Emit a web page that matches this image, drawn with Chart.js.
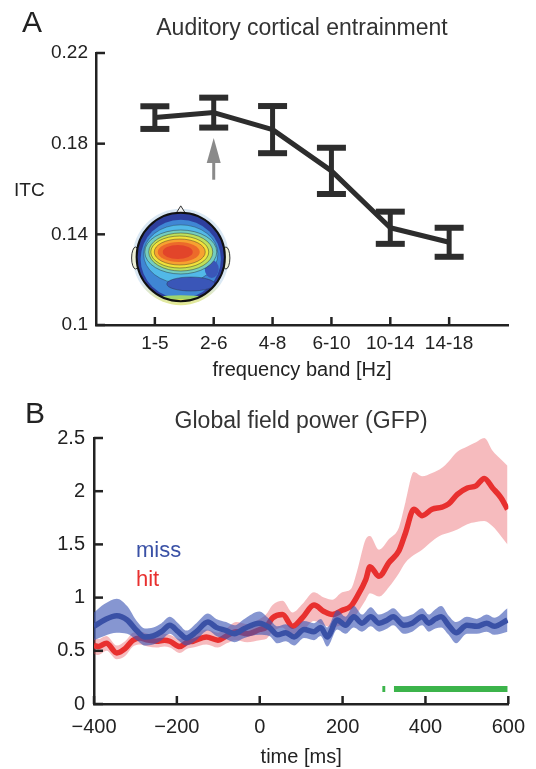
<!DOCTYPE html>
<html>
<head>
<meta charset="utf-8">
<script src="https://cdn.jsdelivr.net/npm/chart.js@4.4.1/dist/chart.umd.min.js"></script>
<style>
  html, body { margin: 0; padding: 0; background: #fff; }
  body {
    width: 536px; height: 769px; position: relative; overflow: hidden;
    font-family: "Liberation Sans", Arial, sans-serif; color: #222;
  }
  .panel { position: absolute; left: 0; width: 536px; }
  #panelA { top: 0; height: 390px; }
  #panelB { top: 390px; height: 379px; }
  .lbl { position: absolute; line-height: 1; white-space: nowrap; }
</style>
</head>
<body>
<div class="panel" id="panelA"><canvas id="chartItc"></canvas></div>
<div class="panel" id="panelB"><canvas id="chartGfp"></canvas></div>

<div class="lbl" style="left:22px; top:7px; font-size:30px;">A</div>
<div class="lbl" style="left:25px; top:398px; font-size:30px;">B</div>
<div class="lbl" style="left:14px; top:180px; font-size:19px;">ITC</div>
<div class="lbl" style="left:136px; top:539px; font-size:22px; color:#3a51a6;">miss</div>
<div class="lbl" style="left:136px; top:568px; font-size:22px; color:#e8302f;">hit</div>

<script>
// panel A: inter-trial coherence per frequency band
const bands = ["1-5", "2-6", "4-8", "6-10", "10-14", "14-18"];
const itcMean = [0.1915, 0.1937, 0.1862, 0.168, 0.1429, 0.1365];
const itcErr = [0.005, 0.0066, 0.0104, 0.0102, 0.0071, 0.0064];
const itcTicks = [0.1, 0.14, 0.18, 0.22];
// grey arrow over the 2-6 Hz band
const arrowBand = 2;
const arrowTip = 0.1825;
const arrowTail = 0.1641;

// panel B: global field power, miss vs hit
const timeTicks = [-400, -200, 0, 200, 400, 600];
const gfpTicks = [0, 0.5, 1, 1.5, 2, 2.5];

const missTime = [-400, -375, -345, -320, -297, -277, -257, -237, -217, -197,
  -177, -153, -125, -105, -81, -61, -37, -1, 23, 43,
  63, 83, 107, 131, 147, 163, 187, 207, 227, 247,
  268, 288, 308, 322, 348, 368, 392, 408, 424, 438,
  456, 474, 500, 524, 548, 566, 598];
const missMean = [0.73, 0.79, 0.83, 0.79, 0.69, 0.63, 0.64, 0.68, 0.74, 0.68,
  0.62, 0.68, 0.77, 0.72, 0.69, 0.66, 0.71, 0.76, 0.72, 0.65,
  0.67, 0.63, 0.70, 0.68, 0.72, 0.63, 0.79, 0.74, 0.82, 0.76,
  0.82, 0.76, 0.79, 0.82, 0.74, 0.76, 0.82, 0.76, 0.80, 0.82,
  0.74, 0.67, 0.74, 0.73, 0.76, 0.73, 0.79];
const missErr = [0.13, 0.15, 0.16, 0.13, 0.09, 0.08, 0.08, 0.08, 0.08, 0.08,
  0.07, 0.08, 0.08, 0.08, 0.08, 0.08, 0.09, 0.11, 0.08, 0.08,
  0.08, 0.08, 0.08, 0.08, 0.08, 0.09, 0.09, 0.08, 0.10, 0.08,
  0.09, 0.08, 0.08, 0.08, 0.08, 0.08, 0.08, 0.08, 0.09, 0.10,
  0.09, 0.10, 0.08, 0.07, 0.08, 0.08, 0.11];

const hitTime = [-400, -390, -370, -345, -325, -306, -289, -270, -249, -230,
  -217, -193, -175, -161, -129, -101, -80, -57, -30, 0,
  15, 31, 55, 79, 103, 131, 155, 175, 199, 220,
  235, 256, 266, 288, 312, 336, 352, 372, 392, 416,
  440, 456, 477, 501, 522, 542, 562, 582, 598];
const hitMean = [0.55, 0.54, 0.57, 0.48, 0.52, 0.60, 0.62, 0.60, 0.59, 0.60,
  0.59, 0.54, 0.58, 0.59, 0.63, 0.60, 0.64, 0.68, 0.66, 0.70,
  0.72, 0.81, 0.84, 0.73, 0.81, 0.93, 0.87, 0.84, 0.88, 0.92,
  1.01, 1.17, 1.29, 1.20, 1.33, 1.44, 1.61, 1.83, 1.77, 1.83,
  1.85, 1.88, 1.97, 2.03, 2.05, 2.12, 2.03, 1.94, 1.83];
const hitLow = [0.47, 0.46, 0.50, 0.42, 0.45, 0.54, 0.56, 0.54, 0.53, 0.54,
  0.53, 0.48, 0.52, 0.53, 0.56, 0.53, 0.57, 0.60, 0.58, 0.60,
  0.61, 0.68, 0.72, 0.62, 0.68, 0.78, 0.74, 0.72, 0.74, 0.76,
  0.85, 0.98, 1.04, 1.01, 1.10, 1.23, 1.33, 1.40, 1.45, 1.53,
  1.59, 1.61, 1.64, 1.69, 1.71, 1.72, 1.67, 1.58, 1.50];
const hitHigh = [0.62, 0.61, 0.64, 0.55, 0.59, 0.67, 0.68, 0.66, 0.65, 0.66,
  0.65, 0.61, 0.64, 0.65, 0.70, 0.67, 0.71, 0.77, 0.75, 0.80,
  0.84, 0.93, 0.97, 0.86, 0.94, 1.05, 1.00, 0.98, 1.05, 1.08,
  1.25, 1.55, 1.58, 1.45, 1.55, 1.66, 1.90, 2.18, 2.14, 2.17,
  2.22, 2.28, 2.37, 2.42, 2.46, 2.50, 2.38, 2.30, 2.24];

// significant hit > miss stretches (green bar)
const sigStart = [296, 324];
const sigEnd = [303, 598];
const sigLevel = 0.14;

const axisColor = "#222";
const lineDark = "#2d2d2d";
const missColor = "#3a51a6";
const hitColor = "#e8302f";

Chart.defaults.font.family = "'Liberation Sans', Arial, sans-serif";
Chart.defaults.color = axisColor;

function points(times, values) {
  return times.map((t, i) => ({ x: t, y: values[i] }));
}

// ticks drawn inside the axes, like the matlab figure
const inwardTicks = {
  id: "inwardTicks",
  afterDraw(chart) {
    const { ctx, chartArea, scales } = chart;
    ctx.save();
    ctx.strokeStyle = axisColor;
    ctx.lineWidth = 2.5;
    scales.x.ticks.forEach((t) => {
      const px = scales.x.getPixelForValue(t.value);
      ctx.beginPath();
      ctx.moveTo(px, chartArea.bottom);
      ctx.lineTo(px, chartArea.bottom - 8);
      ctx.stroke();
    });
    scales.y.ticks.forEach((t) => {
      const py = scales.y.getPixelForValue(t.value);
      ctx.beginPath();
      ctx.moveTo(chartArea.left, py);
      ctx.lineTo(chartArea.left + 9, py);
      ctx.stroke();
    });
    ctx.restore();
  },
};

const errorBars = {
  id: "errorBars",
  afterDatasetsDraw(chart) {
    const { ctx, scales: { x, y } } = chart;
    ctx.save();
    ctx.strokeStyle = lineDark;
    itcMean.forEach((m, i) => {
      const px = x.getPixelForValue(i + 1);
      const top = y.getPixelForValue(m + itcErr[i]);
      const bot = y.getPixelForValue(m - itcErr[i]);
      ctx.lineWidth = 5;
      ctx.beginPath();
      ctx.moveTo(px, top);
      ctx.lineTo(px, bot);
      ctx.stroke();
      ctx.lineWidth = 6;
      [top, bot].forEach((py) => {
        ctx.beginPath();
        ctx.moveTo(px - 14.5, py);
        ctx.lineTo(px + 14.5, py);
        ctx.stroke();
      });
    });

    // arrow
    const ax = x.getPixelForValue(arrowBand);
    const tip = y.getPixelForValue(arrowTip);
    const tail = y.getPixelForValue(arrowTail);
    const headLen = (tail - tip) * 0.6;
    ctx.strokeStyle = "#8a8a8a";
    ctx.fillStyle = "#8a8a8a";
    ctx.lineWidth = 3;
    ctx.beginPath();
    ctx.moveTo(ax, tail);
    ctx.lineTo(ax, tip + headLen - 2);
    ctx.stroke();
    ctx.beginPath();
    ctx.moveTo(ax, tip);
    ctx.lineTo(ax - 7, tip + headLen);
    ctx.lineTo(ax + 7, tip + headLen);
    ctx.closePath();
    ctx.fill();
    ctx.restore();
  },
};

function ellipse(ctx, cx, cy, rx, ry, fill, stroke) {
  ctx.beginPath();
  ctx.ellipse(cx, cy, rx, ry, 0, 0, Math.PI * 2);
  ctx.fillStyle = fill;
  ctx.fill();
  if (stroke) {
    ctx.strokeStyle = stroke;
    ctx.lineWidth = 0.8;
    ctx.stroke();
  }
}

// scalp map inset, placed in axis units
const topomap = {
  id: "topomap",
  beforeDatasetsDraw(chart) {
    const { ctx, scales: { x, y } } = chart;
    const cx = x.getPixelForValue(1.44);
    const cy = y.getPixelForValue(0.13);
    const r = (x.getPixelForValue(1) - x.getPixelForValue(0)) * 0.75;
    ctx.save();

    // halo
    const halo = ctx.createLinearGradient(0, cy - r, 0, cy + r + 5);
    halo.addColorStop(0, "#dae8f4");
    halo.addColorStop(0.75, "#dae8f4");
    halo.addColorStop(1, "#e3e88a");
    ctx.fillStyle = halo;
    ctx.beginPath();
    ctx.arc(cx, cy, r + 4, 0, Math.PI * 2);
    ctx.fill();

    // ears and nose
    ctx.strokeStyle = "#333";
    ctx.lineWidth = 1;
    ctx.fillStyle = "#eef0d8";
    [-1, 1].forEach((s) => {
      ctx.beginPath();
      ctx.ellipse(cx + s * (r + 1), cy + 1, 4, 11, 0, 0, Math.PI * 2);
      ctx.fill();
      ctx.stroke();
    });
    ctx.beginPath();
    ctx.moveTo(cx - 5, cy - r + 1);
    ctx.lineTo(cx, cy - r - 7);
    ctx.lineTo(cx + 5, cy - r + 1);
    ctx.closePath();
    ctx.fillStyle = "#f4f4f4";
    ctx.fill();
    ctx.stroke();

    ctx.save();
    ctx.beginPath();
    ctx.arc(cx, cy, r, 0, Math.PI * 2);
    ctx.clip();
    ctx.fillStyle = "#2e3f9e";
    ctx.fillRect(cx - r, cy - r, 2 * r, 2 * r);
    ellipse(ctx, cx, cy + 2, r - 4, r - 5, "#3f86d4");
    ellipse(ctx, cx, cy + r + 3, r * 0.85, 9, "#9fd46c");
    ellipse(ctx, cx, cy + r + 5, r * 0.75, 7, "#ebe44e");
    ellipse(ctx, cx, cy - 3, r - 7, r - 15, "#52b9e8", "rgba(40,40,40,0.45)");
    ellipse(ctx, cx + 10, cy + 27, 24, 7, "#3a56b8", "rgba(40,40,40,0.45)");
    ellipse(ctx, cx + 31, cy + 12, 7, 9, "#3a56b8");
    ellipse(ctx, cx, cy - 5, 36, 22, "#74cdbf", "rgba(40,40,40,0.55)");
    ellipse(ctx, cx, cy - 5, 32, 19, "#bfe05a", "rgba(40,40,40,0.55)");
    ellipse(ctx, cx - 1, cy - 5, 29, 16, "#f3e23a", "rgba(40,40,40,0.55)");
    ellipse(ctx, cx - 1, cy - 5, 25.5, 13, "#f6a230", "rgba(40,40,40,0.5)");
    ellipse(ctx, cx - 2, cy - 5, 21, 10, "#ec6a2a");
    ellipse(ctx, cx - 3, cy - 5, 15, 7, "#e2452a");
    ctx.restore();

    ctx.strokeStyle = "#111";
    ctx.lineWidth = 2;
    ctx.beginPath();
    ctx.arc(cx, cy, r, 0, Math.PI * 2);
    ctx.stroke();
    ctx.restore();
  },
};

const itcChart = new Chart(document.getElementById("chartItc"), {
  type: "line",
  data: {
    datasets: [
      {
        data: bands.map((b, i) => ({ x: i + 1, y: itcMean[i] })),
        borderColor: lineDark,
        borderWidth: 5,
        pointRadius: 0,
        tension: 0,
        borderJoinStyle: "round",
      },
    ],
  },
  options: {
    responsive: true,
    maintainAspectRatio: false,
    animation: false,
    layout: { padding: { top: 10, right: 28, bottom: 0, left: 0 } },
    plugins: {
      legend: { display: false },
      tooltip: { enabled: false },
      title: {
        display: true,
        fullSize: false,
        text: "Auditory cortical entrainment",
        color: "#333",
        font: { size: 23, weight: "normal" },
        padding: { top: 5, bottom: 10.4 },
      },
    },
    scales: {
      x: {
        type: "linear",
        min: 0,
        max: 7,
        afterBuildTicks: (s) => {
          s.ticks = bands.map((b, i) => ({ value: i + 1 }));
        },
        afterFit: (s) => {
          s.height = 65;
        },
        ticks: {
          callback: (v) => bands[v - 1],
          font: { size: 19 },
          padding: 7,
          maxRotation: 0,
          autoSkip: false,
        },
        grid: { display: false, drawTicks: false },
        border: { display: true, color: axisColor, width: 2.5 },
        title: {
          display: true,
          text: "frequency band [Hz]",
          font: { size: 20 },
          padding: { top: 0, bottom: 8 },
        },
      },
      y: {
        min: 0.1,
        max: 0.22,
        afterBuildTicks: (s) => {
          s.ticks = itcTicks.map((v) => ({ value: v }));
        },
        afterFit: (s) => {
          s.width = 96;
        },
        ticks: {
          callback: (v) => String(+v.toFixed(2)),
          font: { size: 19 },
          padding: 8,
        },
        grid: { display: false, drawTicks: false },
        border: { display: true, color: axisColor, width: 2.5 },
      },
    },
  },
  plugins: [topomap, errorBars, inwardTicks],
});

const sigData = sigStart.flatMap((s, i) => [
  { x: s, y: sigLevel },
  { x: sigEnd[i], y: sigLevel },
  { x: sigEnd[i], y: null },
]);

const gfpChart = new Chart(document.getElementById("chartGfp"), {
  type: "line",
  data: {
    datasets: [
      {
        label: "significant",
        data: sigData,
        borderColor: "#3cb44b",
        borderWidth: 6,
        borderCapStyle: "butt",
        spanGaps: false,
        order: 0,
      },
      {
        label: "miss",
        data: points(missTime, missMean),
        borderColor: missColor,
        borderWidth: 5.5,
        order: 1,
      },
      {
        label: "miss low",
        data: points(missTime, missMean.map((m, i) => m - missErr[i])),
        borderWidth: 0,
        fill: false,
        order: 3,
      },
      {
        label: "miss high",
        data: points(missTime, missMean.map((m, i) => m + missErr[i])),
        borderWidth: 0,
        fill: "-1",
        backgroundColor: "rgba(60, 85, 180, 0.62)",
        order: 2,
      },
      {
        label: "hit",
        data: points(hitTime, hitMean),
        borderColor: hitColor,
        borderWidth: 5.5,
        order: 4,
      },
      {
        label: "hit low",
        data: points(hitTime, hitLow),
        borderWidth: 0,
        fill: false,
        order: 6,
      },
      {
        label: "hit high",
        data: points(hitTime, hitHigh),
        borderWidth: 0,
        fill: "-1",
        backgroundColor: "rgba(228, 60, 70, 0.35)",
        order: 5,
      },
    ],
  },
  options: {
    responsive: true,
    maintainAspectRatio: false,
    animation: false,
    layout: { padding: { top: 13, right: 26, bottom: 0, left: 0 } },
    elements: {
      point: { radius: 0 },
      line: { cubicInterpolationMode: "monotone", borderJoinStyle: "round" },
    },
    plugins: {
      legend: { display: false },
      tooltip: { enabled: false },
      title: {
        display: true,
        fullSize: false,
        text: "Global field power (GFP)",
        color: "#333",
        font: { size: 23, weight: "normal" },
        padding: { top: 5, bottom: 2.4 },
      },
    },
    scales: {
      x: {
        type: "linear",
        min: -400,
        max: 600,
        afterBuildTicks: (s) => {
          s.ticks = timeTicks.map((v) => ({ value: v }));
        },
        afterFit: (s) => {
          s.height = 65;
        },
        ticks: {
          callback: (v) => (v < 0 ? "\u2212" + Math.abs(v) : String(v)),
          font: { size: 20 },
          padding: 11,
          maxRotation: 0,
          autoSkip: false,
        },
        grid: { display: false, drawTicks: false },
        border: { display: true, color: axisColor, width: 2.5 },
        title: {
          display: true,
          text: "time [ms]",
          font: { size: 20 },
          padding: { top: 0, bottom: 0 },
        },
      },
      y: {
        min: 0,
        max: 2.5,
        afterBuildTicks: (s) => {
          s.ticks = gfpTicks.map((v) => ({ value: v }));
        },
        afterFit: (s) => {
          s.width = 94;
        },
        ticks: {
          callback: (v) => String(v),
          font: { size: 20 },
          padding: 9,
        },
        grid: { display: false, drawTicks: false },
        border: { display: true, color: axisColor, width: 2.5 },
      },
    },
  },
  plugins: [inwardTicks],
});
</script>
</body>
</html>
